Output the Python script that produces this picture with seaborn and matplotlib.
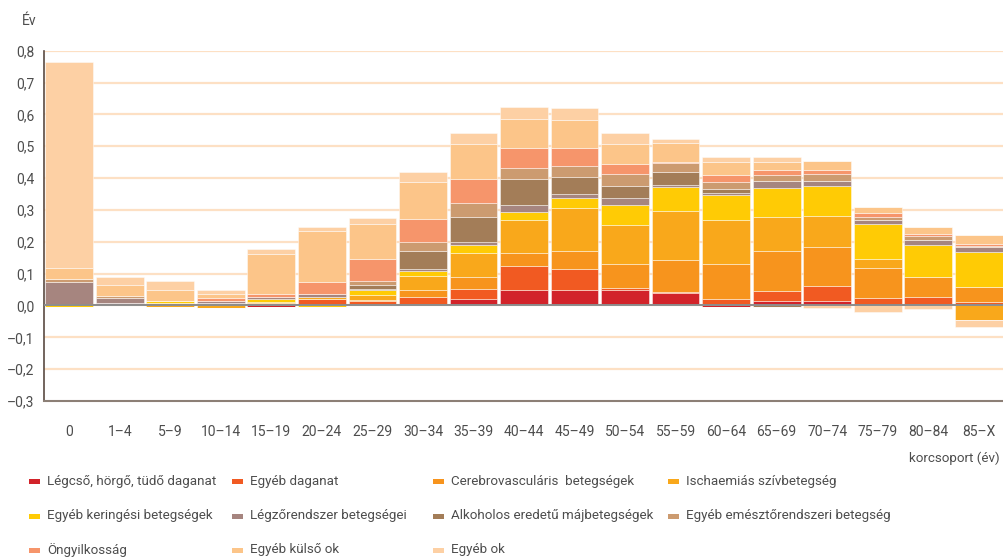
import numpy as np
import matplotlib
matplotlib.use("Agg")
import matplotlib.pyplot as plt
from matplotlib.patches import Rectangle
import seaborn as sns

ages = ["0", "1–4", "5–9", "10–14", "15–19", "20–24", "25–29", "30–34", "35–39",
        "40–44", "45–49", "50–54", "55–59", "60–64", "65–69", "70–74", "75–79",
        "80–84", "85–X"]

causes = ["Légcső, hörgő, tüdő daganat", "Egyéb daganat", "Cerebrovasculáris  betegségek",
          "Ischaemiás szívbetegség", "Egyéb keringési betegségek", "Légzőrendszer betegségei",
          "Alkoholos eredetű májbetegségek", "Egyéb emésztőrendszeri betegség",
          "Öngyilkosság", "Egyéb külső ok", "Egyéb ok"]

colors = ["#d2232a", "#f15a22", "#f7941d", "#f9a81b", "#ffcb05", "#a6857f",
          "#a37d58", "#cc9b70", "#f6956b", "#fcc589", "#fdd0a4"]

legcso = [0.002, 0.002, 0.002, 0.002, -0.004, 0.002, 0.005, 0.006, 0.021, 0.047,
          0.047, 0.049, 0.038, -0.005, 0.0135, 0.0125, 0.002, 0.005, 0.005]
egyeb_daganat = [0.004, 0.005, 0.005, 0.004, 0.004, 0.018, 0.008, 0.020, 0.032, 0.076,
                 0.069, 0.006, 0.005, 0.021, 0.033, 0.048, 0.021, 0.021, 0.007]
cerebro = [0.0, 0.001, 0.001, 0.001, 0.004, 0.0, 0.004, 0.021, 0.037, 0.042,
           0.054, 0.076, 0.100, 0.109, 0.123, 0.123, 0.095, 0.063, 0.047]
ischaemias = [0.0, 0.0, -0.006, -0.007, 0.004, 0.008, 0.015, 0.047, 0.075, 0.102,
              0.137, 0.122, 0.153, 0.137, 0.109, 0.096, 0.028, 0.0, -0.045]
egyeb_keringesi = [-0.006, 0.0, 0.007, 0.0, 0.008, -0.006, 0.016, 0.0155, 0.026, 0.028,
                   0.029, 0.063, 0.076, 0.080, 0.091, 0.097, 0.109, 0.101, 0.109]
legzo = [0.069, 0.016, 0.0, 0.008, 0.006, 0.007, 0.003, 0.0055, 0.007, 0.019,
         0.0135, 0.021, 0.007, 0.007, 0.021, 0.0155, 0.0135, 0.0155, 0.0155]
alkoholos = [0.0, 0.0, 0.0, 0.0, 0.0, 0.0, 0.0125, 0.055, 0.081, 0.083,
             0.055, 0.039, 0.039, 0.0105, -0.005, 0.0, 0.0, 0.0, 0.0]
emeszto = [0.008, 0.005, 0.0, 0.0, 0.0, 0.0, 0.0135, 0.028, 0.042, 0.035,
           0.034, 0.036, 0.028, 0.024, 0.019, 0.020, 0.0105, 0.0125, 0.004]
ongyilkossag = [0.0, 0.0, 0.0, 0.007, 0.010, 0.040, 0.070, 0.074, 0.076, 0.061,
                0.055, 0.032, 0.006, 0.021, 0.016, 0.0135, 0.0105, 0.006, 0.006]
egyeb_kulso = [0.035, 0.034, 0.034, 0.0155, 0.126, 0.158, 0.109, 0.117, 0.109, 0.094,
               0.090, 0.062, 0.057, 0.042, 0.026, 0.028, 0.021, 0.021, 0.027]
egyeb_ok = [0.645, 0.027, 0.029, 0.0105, 0.014, 0.0135, 0.020, 0.029, 0.036, 0.037,
            0.035, 0.036, 0.013, 0.016, 0.0135, -0.007, -0.019, -0.0105, -0.023]

series = [legcso, egyeb_daganat, cerebro, ischaemias, egyeb_keringesi, legzo,
          alkoholos, emeszto, ongyilkossag, egyeb_kulso, egyeb_ok]

yticks = [-0.3, -0.2, -0.1, 0.0, 0.1, 0.2, 0.3, 0.4, 0.5, 0.6, 0.7, 0.8]

sns.set_style("white")
plt.rcParams["font.family"] = ["Roboto", "DejaVu Sans"]

txt = "#4d4d4d"
fs = 9.6
fig = plt.figure(figsize=(10.04, 5.58), dpi=100)
ax = fig.add_axes([44 / 1004, 1 - 401 / 558, 1 - 44 / 1004, (401 - 50.7) / 558])

x = np.arange(len(ages))
pos_base = np.zeros(len(ages))
neg_base = np.zeros(len(ages))
for vals, col, name in zip(series, colors, causes):
    v = np.array(vals, dtype=float)
    p = np.where(v > 0, v, 0.0)
    n = np.where(v < 0, v, 0.0)
    ax.bar(x, p, bottom=pos_base, width=0.945, color=col, edgecolor=(1, 1, 1, 0.45),
           linewidth=0.7, zorder=3, label=name)
    ax.bar(x, n, bottom=neg_base, width=0.945, color=col, edgecolor=(1, 1, 1, 0.45),
           linewidth=0.7, zorder=3)
    pos_base += p
    neg_base += n

for t in yticks:
    if t > -0.3:
        ax.axhline(t, color="#fde0c4", lw=1.6, zorder=1)
ax.axhline(0.0, color="#8c8c8c", lw=1.4, zorder=5)

ax.set_xlim(-0.5, len(ages) - 0.5)
ax.set_ylim(-0.3, 0.8)
ax.set_yticks(yticks)
ax.set_yticklabels([("–" if t < 0 else "") + f"{abs(t):.1f}".replace(".", ",") for t in yticks],
                   color=txt, fontsize=fs + 0.4)
ax.tick_params(axis="y", direction="out", length=4, width=1.0, color="#5a4a42", pad=3)

ax.set_xticks(np.arange(len(ages) + 1) - 0.5)
ax.set_xticklabels([])
ax.set_xticks(x, minor=True)
ax.set_xticklabels(ages, minor=True, color=txt, fontsize=fs + 0.4)
ax.tick_params(axis="x", which="major", direction="out", length=5, width=1.0, color="#7a7068")
ax.tick_params(axis="x", which="minor", length=0, pad=17)

for s in ["top", "right"]:
    ax.spines[s].set_visible(False)
ax.spines["left"].set_color("#5a4a42")
ax.spines["left"].set_linewidth(1.2)
ax.spines["bottom"].set_color("#8c7f76")
ax.spines["bottom"].set_linewidth(1.5)
ax.grid(False)

fig.text(22 / 1004, 1 - 21 / 558, "Év", color=txt, fontsize=fs + 0.4, ha="left", va="center")
fig.text(1000 / 1004, 1 - 458 / 558, "korcsoport (év)", color=txt, fontsize=fs,
         ha="right", va="center")

col_x = [29, 232, 433, 668]
row_y = [481, 516, 550]
for i, (name, col) in enumerate(zip(causes, colors)):
    r, c = divmod(i, 4)
    px, py = col_x[c], row_y[r]
    fig.patches.append(Rectangle((px / 1004, 1 - (py + 2.5) / 558), 11 / 1004, 5 / 558,
                                 transform=fig.transFigure, facecolor=col, edgecolor="none"))
    fig.text((px + 18) / 1004, 1 - py / 558, name, color=txt, fontsize=fs,
             ha="left", va="center")

fig.savefig("out.png", dpi=100)
